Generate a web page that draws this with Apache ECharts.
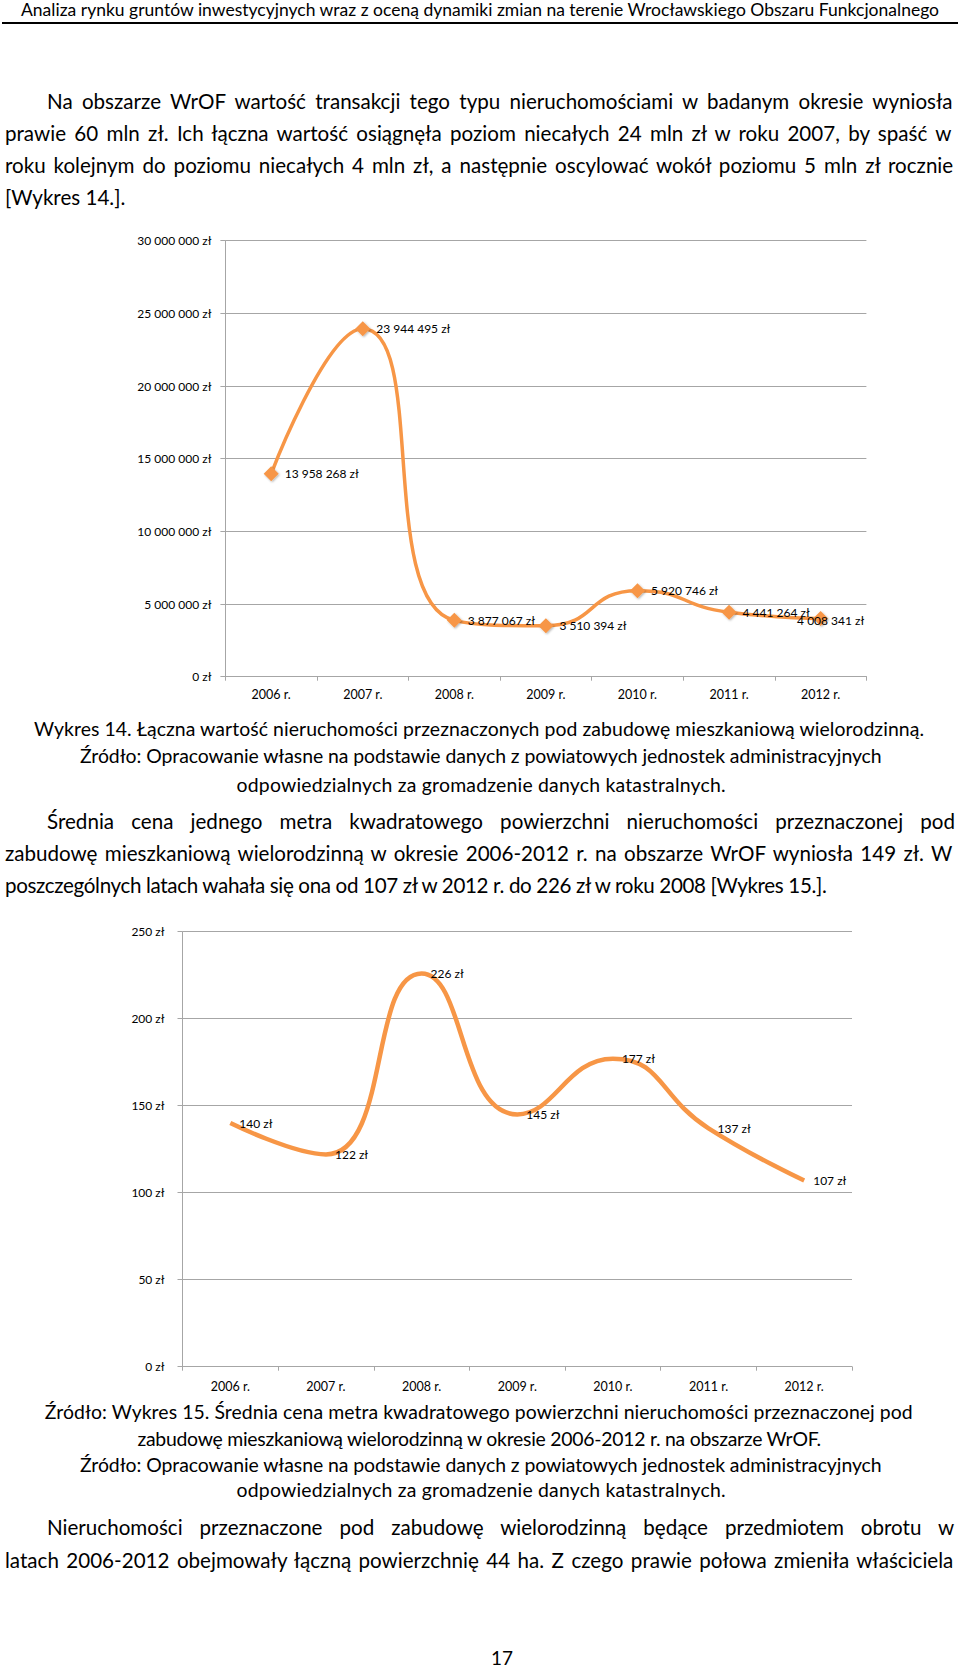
<!DOCTYPE html>
<html lang="pl">
<head>
<meta charset="utf-8">
<title>Wykres 14 i Wykres 15</title>
<script src="https://cdn.jsdelivr.net/npm/echarts@6.0.0/dist/echarts.min.js"></script>
<style>
html,body{margin:0;padding:0;background:#fff;}
#page{position:relative;width:960px;height:1670px;overflow:hidden;background:#fff;}
#chart{position:absolute;left:0;top:0;width:960px;height:1670px;}
.ln{position:absolute;white-space:nowrap;line-height:1;color:#000;font-family:Lato,"Open Sans","DejaVu Sans",sans-serif;}
#rule{position:absolute;left:2px;top:22px;width:956px;height:2px;background:#000;}
</style>
</head>
<body>
<div id="page"><div id="chart"></div><div id="rule"></div></div>
<script>
// ---------- chart data ----------
const years = ['2006 r.', '2007 r.', '2008 r.', '2009 r.', '2010 r.', '2011 r.', '2012 r.'];
const totalValuePLN = [13958268, 23944495, 3877067, 3510394, 5920746, 4441264, 4008341];
const pricePerM2PLN = [140, 122, 226, 145, 177, 137, 107];
const valueAxisTicks = [0, 5000000, 10000000, 15000000, 20000000, 25000000, 30000000];
const priceAxisTicks = [0, 50, 100, 150, 200, 250];

// ---------- page text ----------
const textLines = [
  {g:'hdr', m:'c', x1:21, x2:940, y:11.5, t:'Analiza rynku gruntów inwestycyjnych wraz z oceną dynamiki zmian na terenie Wrocławskiego Obszaru Funkcjonalnego'},
  {g:'para', m:'j', x1:47, x2:955, y:103.4, t:'Na obszarze WrOF wartość transakcji tego typu nieruchomościami w badanym okresie wyniosła'},
  {g:'para', m:'j', x1:5, x2:955, y:135.3, t:'prawie 60 mln zł. Ich łączna wartość osiągnęła poziom niecałych 24 mln zł w roku 2007, by spaść w'},
  {g:'para', m:'j', x1:5, x2:955, y:167.3, t:'roku kolejnym do poziomu niecałych 4 mln zł, a następnie oscylować wokół poziomu 5 mln zł rocznie'},
  {g:'para', m:'n', x1:5, x2:137, y:199.2, t:'[Wykres 14.].'},
  {g:'cap', m:'c', x1:34, x2:925, y:729.9, t:'Wykres 14. Łączna wartość nieruchomości przeznaczonych pod zabudowę mieszkaniową wielorodzinną.'},
  {g:'cap', m:'c', x1:80, x2:882, y:757.6, t:'Źródło: Opracowanie własne na podstawie danych z powiatowych jednostek administracyjnych'},
  {g:'cap', m:'c', x1:236.5, x2:725.6, y:786.3, t:'odpowiedzialnych za gromadzenie danych katastralnych.'},
  {g:'para', m:'j', x1:47, x2:955, y:822.6, t:'Średnia cena jednego metra kwadratowego powierzchni nieruchomości przeznaczonej pod'},
  {g:'para', m:'j', x1:5, x2:955, y:854.5, t:'zabudowę mieszkaniową wielorodzinną w okresie 2006-2012 r. na obszarze WrOF wyniosła 149 zł. W'},
  {g:'para', m:'l', x1:5, x2:799, y:886.5, t:'poszczególnych latach wahała się ona od 107 zł w 2012 r. do 226 zł w roku 2008 [Wykres 15.].'},
  {g:'cap', m:'c', x1:44.8, x2:913, y:1412.9, t:'Źródło: Wykres 15. Średnia cena metra kwadratowego powierzchni nieruchomości przeznaczonej pod'},
  {g:'cap', m:'c', x1:137.4, x2:822.6, y:1440.6, t:'zabudowę mieszkaniową wielorodzinną w okresie 2006-2012 r. na obszarze WrOF.'},
  {g:'cap', m:'c', x1:80, x2:882, y:1466.1, t:'Źródło: Opracowanie własne na podstawie danych z powiatowych jednostek administracyjnych'},
  {g:'cap', m:'c', x1:236.5, x2:725.6, y:1491.7, t:'odpowiedzialnych za gromadzenie danych katastralnych.'},
  {g:'para', m:'j', x1:47, x2:955, y:1529, t:'Nieruchomości przeznaczone pod zabudowę wielorodzinną będące przedmiotem obrotu w'},
  {g:'para', m:'j', x1:5, x2:955, y:1562, t:'latach 2006-2012 obejmowały łączną powierzchnię 44 ha. Z czego prawie połowa zmieniła właściciela'},
  {g:'num', m:'c', x1:491, x2:513, y:1660, t:'17'}
];
const groupScale = {hdr: 1, para: 1.08, cap: 1, num: 1};

const FAM = 'Lato, "Open Sans", "DejaVu Sans", sans-serif';
const page = document.getElementById('page');
const ctx = document.createElement('canvas').getContext('2d');
function natW(t, fs) { ctx.font = fs + 'px ' + FAM; return ctx.measureText(t).width; }

const acc = {};
textLines.forEach(l => {
  if (l.m === 'c' || l.m === 'l') {
    const f = 20 * (l.x2 - l.x1) / natW(l.t, 20);
    (acc[l.g] = acc[l.g] || []).push([f, l.t.length]);
  }
});
const gfs = {};
for (const g in acc) { let s = 0, w = 0; acc[g].forEach(([f, n]) => { s += f * n; w += n; }); gfs[g] = s / w * groupScale[g]; }

textLines.forEach(l => {
  const fs = gfs[l.g];
  const w = natW(l.t, fs);
  const T = l.x2 - l.x1;
  const d = document.createElement('div');
  d.className = 'ln';
  d.textContent = l.t;
  d.style.fontSize = fs + 'px';
  d.style.left = l.x1 + 'px';
  d.style.top = (l.y - 0.58 * fs) + 'px';
  if (l.m === 'j') {
    const n = (l.t.match(/ /g) || []).length;
    d.style.wordSpacing = ((T - w) / n) + 'px';
  } else if (l.m === 'l') {
    // left-aligned last line: only partially tighten so glyphs stay natural
    d.style.letterSpacing = (0.5 * (T - w) / (l.t.length - 1)) + 'px';
  } else if (l.m === 'c' && l.t.length > 1) {
    d.style.letterSpacing = ((T - w) / (l.t.length - 1)) + 'px';
  }
  page.appendChild(d);
});

// ---------- charts ----------
const ORANGE = '#F79646';
const GRID = '#A6A6A6';
const fmtPLN = v => String(v).replace(/\B(?=(\d{3})+(?!\d))/g, '\u00a0') + '\u00a0zł';

function xAxisCfg(gi, margin) {
  return {
    gridIndex: gi, type: 'category', data: years, boundaryGap: true,
    axisLine: {show: true, lineStyle: {color: GRID, width: 1}},
    axisTick: {show: true, interval: 0, length: 4, lineStyle: {color: GRID}},
    axisLabel: {interval: 0, margin: margin, fontSize: 12.5, color: '#000', fontFamily: FAM},
    splitLine: {show: false}
  };
}
function yAxisCfg(gi, ticks, margin) {
  return {
    gridIndex: gi, type: 'value',
    min: ticks[0], max: ticks[ticks.length - 1], interval: ticks[1] - ticks[0],
    axisLine: {show: true, lineStyle: {color: GRID, width: 1}},
    axisTick: {show: true, length: 5, lineStyle: {color: GRID}},
    splitLine: {show: true, lineStyle: {color: GRID, width: 1}},
    axisLabel: {margin: margin, fontSize: 12, color: '#000', fontFamily: FAM, formatter: fmtPLN}
  };
}

const valueData = totalValuePLN.map((v, i) => i === totalValuePLN.length - 1
  ? {value: v, label: {offset: [-37, 2]}}
  : v);

const chart = echarts.init(document.getElementById('chart'), null, {renderer: 'svg'});
chart.setOption({
  animation: false,
  backgroundColor: 'transparent',
  textStyle: {fontFamily: FAM},
  grid: [
    {left: 225.4, top: 240.7, width: 641, height: 436},
    {left: 182.5, top: 931.7, width: 669.5, height: 435}
  ],
  xAxis: [xAxisCfg(0, 11), xAxisCfg(1, 13)],
  yAxis: [yAxisCfg(0, valueAxisTicks, 14), yAxisCfg(1, priceAxisTicks, 18)],
  series: [
    {
      type: 'line', xAxisIndex: 0, yAxisIndex: 0, data: valueData,
      smooth: 0.55, symbol: 'diamond', symbolSize: 15,
      lineStyle: {color: ORANGE, width: 3.5},
      itemStyle: {color: ORANGE, shadowBlur: 2, shadowColor: 'rgba(0,0,0,0.3)', shadowOffsetX: 1, shadowOffsetY: 1},
      label: {show: true, position: 'right', distance: 6, fontSize: 12, color: '#000', fontFamily: FAM,
              formatter: p => fmtPLN(p.value)},
      emphasis: {disabled: true}
    },
    {
      type: 'line', xAxisIndex: 1, yAxisIndex: 1, data: pricePerM2PLN,
      smooth: 0.5, symbol: 'circle', symbolSize: 2, showSymbol: true,
      lineStyle: {color: ORANGE, width: 4.5},
      itemStyle: {color: 'rgba(0,0,0,0)'},
      label: {show: true, position: 'right', distance: 8, fontSize: 12, color: '#000', fontFamily: FAM,
              formatter: p => fmtPLN(p.value)},
      emphasis: {disabled: true}
    }
  ]
});
</script>
</body>
</html>
